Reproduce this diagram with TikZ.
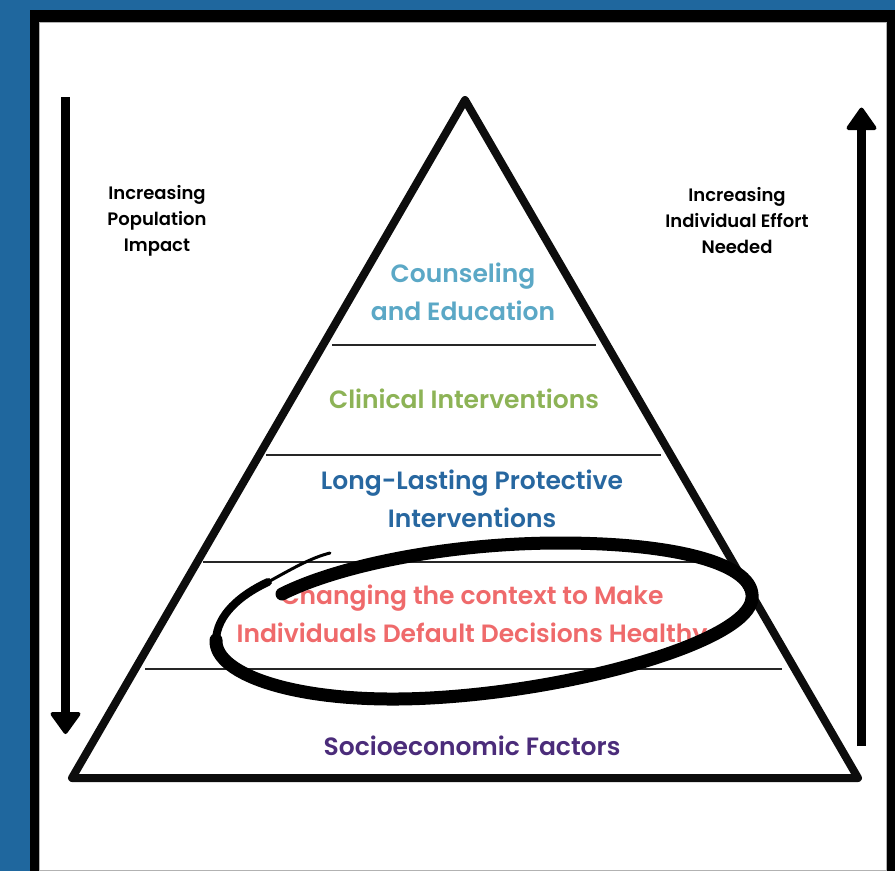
\documentclass[tikz,border=0pt]{standalone}
\usepackage{fontspec}
\setmainfont{Poppins}[BoldFont={Poppins SemiBold}]
\definecolor{bgblue}{HTML}{1F679E}
\definecolor{cblue}{HTML}{5BA8C6}
\definecolor{cgreen}{HTML}{8DB356}
\definecolor{cdblue}{HTML}{2767A0}
\definecolor{cred}{HTML}{EF6A6B}
\definecolor{cpurple}{HTML}{4B2C7A}
\begin{document}
\begin{tikzpicture}[x=1pt,y=-1pt,
  lvl/.style={align=center,inner sep=0pt,font=\fontsize{25}{38}\selectfont\bfseries},
  side/.style={align=center,inner sep=0pt,font=\fontsize{18}{26}\selectfont\bfseries,text=black},
  tier/.style={line width=1.6pt,draw=black!85},
  shaft/.style={line width=9pt},
  headtip/.style={fill=black,draw=black,line width=4pt,line join=round},
  brush/.style={line cap=round,line join=round}]
\useasboundingbox (0,0) rectangle (895,871);
% frame
\fill[bgblue] (0,0) rectangle (895,871);
\fill[black] (30,10) rectangle (895,871);
\fill[white] (39,22) rectangle (887,871);
\draw[black!30,line width=0.8pt] (39.4,871) -- (39.4,22.4) -- (886.6,22.4) -- (886.6,871);
\draw[black!30,line width=0.8pt] (39.4,870.4) -- (886.6,870.4);
% tier lines
\coordinate (l1a) at (332,345); \coordinate (l1b) at (596,345);
\coordinate (l2a) at (266,455); \coordinate (l2b) at (661,455);
\coordinate (l3a) at (203,562); \coordinate (l3b) at (726,562);
\coordinate (l4a) at (145,669); \coordinate (l4b) at (782,669);
\draw[tier] (l1a) -- (l1b);
\draw[tier] (l2a) -- (l2b);
\draw[tier] (l3a) -- (l3b);
\draw[tier] (l4a) -- (l4b);
% triangle
\coordinate (apex) at (465,100);
\coordinate (bl) at (72,778);
\coordinate (br) at (858,778);
\draw[line width=8pt,line join=round,draw=black!95] (apex) -- (bl) -- (br) -- cycle;
% left arrow
\coordinate (la0) at (65,97);
\coordinate (la1) at (65,716);
\draw[shaft] (la0) -- (la1);
\filldraw[headtip] (52.5,714) -- (78.5,714) -- (65.5,732) -- cycle;
% right arrow
\coordinate (ra0) at (861.5,746);
\coordinate (ra1) at (861.5,126);
\draw[shaft] (ra0) -- (ra1);
\filldraw[headtip] (848.5,128) -- (874.5,128) -- (861.5,109.5) -- cycle;
% side texts
\node[side] (popimp) at (157,221) {Increasing\\Population\\Impact};
\node[side] (indeff) at (737,221) {Increasing\\Individual Effort\\Needed};
% tier texts
\node[lvl,text=cblue] (couns) at (463,292) {Counseling\\and Education};
\node[lvl,text=cgreen] (clin) at (464,399) {Clinical Interventions};
\node[lvl,text=cdblue] (long) at (472,498.5) {Long-Lasting Protective\\Interventions};
\node[lvl,text=cred] (chg) at (472,616.5) {Changing the context to Make\\Individuals Default Decisions Healthy};
\node[lvl,text=cpurple] (socio) at (472,746) {Socioeconomic Factors};
% hand-drawn circle
\coordinate (cs) at (282,594);
\coordinate (ct) at (560,543);
\coordinate (cr) at (752,598);
\coordinate (cb) at (430,698);
\coordinate (cl) at (216,640);
\coordinate (cm) at (268,582);
\coordinate (ce) at (330,553);
\draw[brush,line width=13pt] (cs) .. controls (340,565) and (450,543) .. (ct)
  .. controls (680,543) and (755,565) .. (cr)
  .. controls (750,640) and (580,690) .. (cb)
  .. controls (300,705) and (214,675) .. (cl);
\draw[brush,line width=8pt] (cl) .. controls (217,615) and (240,595) .. (cm);
\draw[brush,line width=3pt] (cm) .. controls (290,570) and (310,558) .. (ce);
\end{tikzpicture}
\end{document}
